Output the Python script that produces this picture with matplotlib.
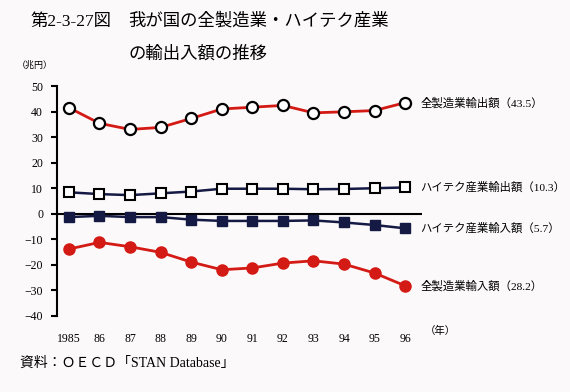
import matplotlib.pyplot as plt
import numpy as np

years = [1985, 1986, 1987, 1988, 1989, 1990, 1991, 1992, 1993, 1994, 1995, 1996]
year_labels = ['1985', '86', '87', '88', '89', '90', '91', '92', '93', '94', '95', '96']
mfg_export = [41.5, 35.4, 33.0, 33.8, 37.3, 41.0, 41.7, 42.4, 39.5, 39.9, 40.4, 43.5]
hitech_export = [8.4, 7.7, 7.3, 8.0, 8.7, 9.8, 9.8, 9.8, 9.6, 9.7, 10.0, 10.3]
hitech_import = [-1.3, -0.8, -1.3, -1.3, -2.3, -2.8, -2.8, -2.8, -2.6, -3.4, -4.4, -5.7]
mfg_import = [-13.8, -11.2, -12.9, -15.1, -18.9, -21.9, -21.2, -19.3, -18.4, -19.7, -23.2, -28.2]
series_labels = ['全製造業輸出額（43.5）', 'ハイテク産業輸出額（10.3）',
                 'ハイテク産業輸入額（5.7）', '全製造業輸入額（28.2）']

mixed = ['Liberation Serif', 'Noto Sans CJK JP']
red = '#d41a14'
navy = '#151a45'
bg = '#fbf9f9'

fig = plt.figure(figsize=(5.7, 3.92), dpi=100, facecolor=bg)
ax = fig.add_axes([0.1, 0.1939, 0.6404, 0.5867], facecolor=bg)

ax.plot(years, hitech_export, color=navy, lw=1.8, marker='s', ms=7,
        mfc='white', mec='black', mew=1.5, zorder=3)
ax.plot(years, hitech_import, color=navy, lw=1.8, marker='s', ms=7,
        mfc=navy, mec=navy, mew=1, zorder=3)
ax.plot(years, mfg_export, color=red, lw=2, marker='o', ms=8,
        mfc='white', mec='black', mew=1.6, zorder=3)
ax.plot(years, mfg_import, color=red, lw=2, marker='o', ms=8,
        mfc=red, mec=red, mew=1, zorder=3)
ax.axhline(0, color='black', lw=1.5, zorder=2)

for vals, lab in zip([mfg_export, hitech_export, hitech_import, mfg_import], series_labels):
    ax.annotate(lab, xy=(years[-1], vals[-1]), xytext=(11, 0), textcoords='offset points',
                va='center', ha='left', fontsize=8.2, family=mixed, annotation_clip=False)

ax.set_xlim(1984.61, 1996.55)
ax.set_ylim(-40, 50)
ax.set_yticks(np.arange(-40, 51, 10))
ax.set_xticks(years)
ax.set_xticklabels(year_labels)
for s in ['top', 'right', 'bottom']:
    ax.spines[s].set_visible(False)
ax.spines['left'].set_linewidth(1.5)
ax.tick_params(axis='y', direction='out', length=4, width=1.5, labelsize=8.5, pad=6)
ax.tick_params(axis='x', length=0, labelsize=8.5, pad=12)
for t in ax.get_xticklabels() + ax.get_yticklabels():
    t.set_family('Liberation Serif')

fig.text(0.053, 0.945, '第2-3-27図', fontsize=12.5, family=mixed, va='center')
fig.text(0.225, 0.945, '我が国の全製造業・ハイテク産業', fontsize=12.5, family=mixed, va='center')
fig.text(0.225, 0.862, 'の輸出入額の推移', fontsize=12.5, family=mixed, va='center')
fig.text(0.03, 0.834, '（兆円）', fontsize=6.5, family=mixed, va='center')
fig.text(0.745, 0.155, '（年）', fontsize=7.5, family=mixed, va='center')
fig.text(0.035, 0.074, '資料：ＯＥＣＤ「STAN Database」', fontsize=10, family=mixed, va='center')

fig.savefig('out.png', dpi=100, facecolor=bg)
